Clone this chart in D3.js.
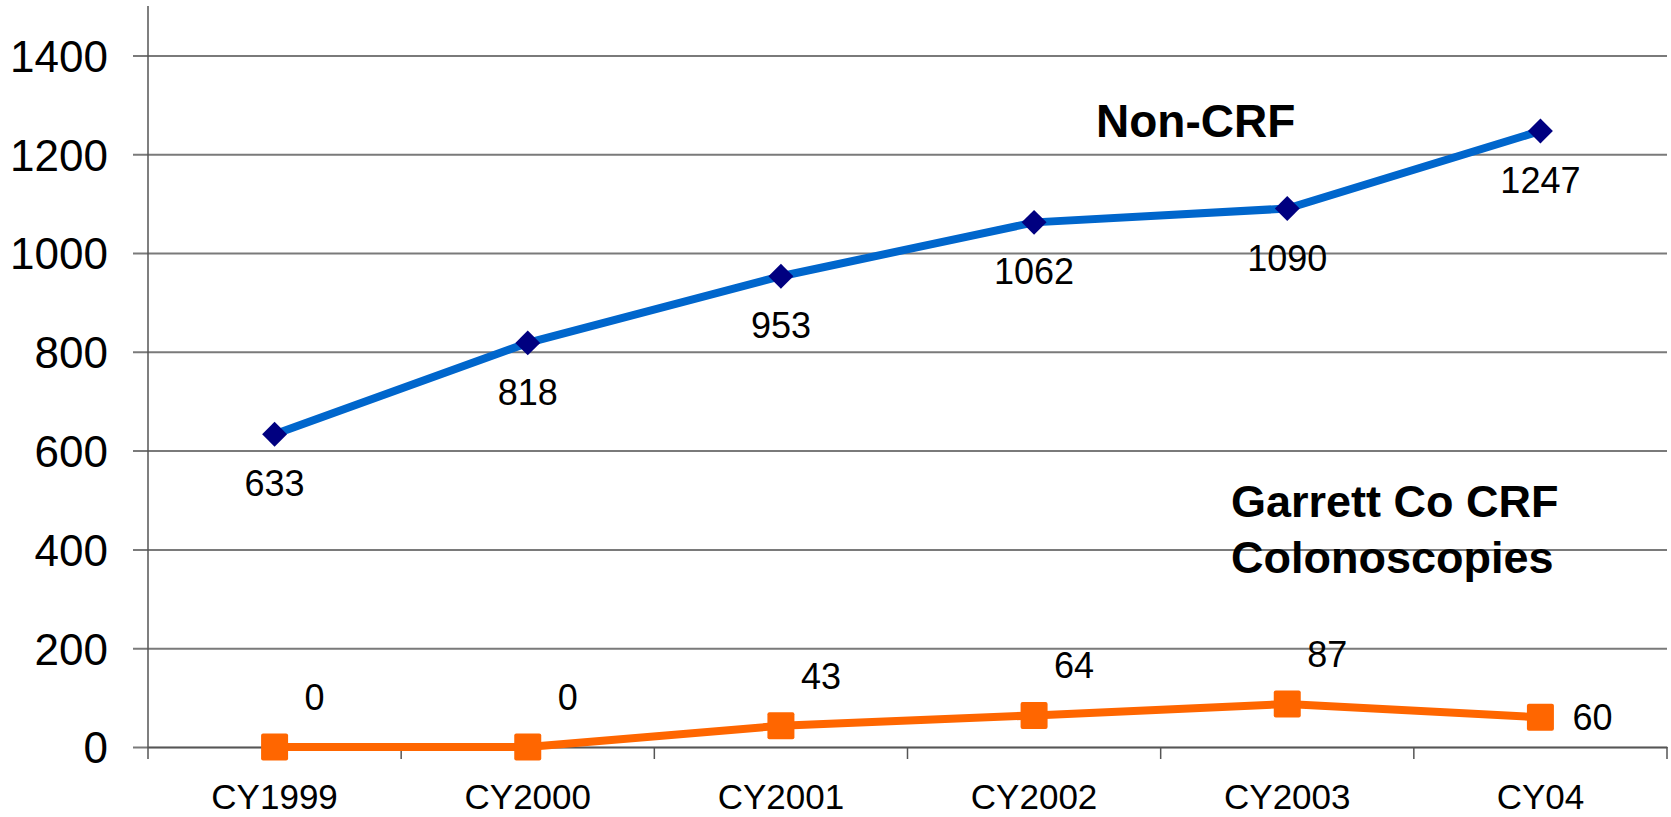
<!DOCTYPE html>
<html>
<head>
<meta charset="utf-8">
<script src="https://cdn.jsdelivr.net/npm/d3@7"></script>
<style>
  html, body { margin: 0; padding: 0; background: #fff; }
  svg { display: block; font-family: "Liberation Sans", Arial, sans-serif; }
</style>
</head>
<body>
<svg id="chart" width="1671" height="817"></svg>
<script>
// Colonoscopy counts by calendar year
const categories = ["CY1999", "CY2000", "CY2001", "CY2002", "CY2003", "CY04"];
const nonCrf = [633, 818, 953, 1062, 1090, 1247];
const garrettCrf = [0, 0, 43, 64, 87, 60];
const yTicks = [0, 200, 400, 600, 800, 1000, 1200, 1400];

const W = 1671, H = 817;
const margin = { left: 148, right: 4, top: 6, bottom: 70 };

const svg = d3.select("#chart");

const x = d3.scaleBand()
  .domain(categories)
  .range([margin.left, W - margin.right])
  .paddingInner(0).paddingOuter(0);

const y = d3.scaleLinear()
  .domain([0, 1500])
  .range([H - margin.bottom, margin.top]);

const cx = d => x(d) + x.bandwidth() / 2;

// Horizontal gridlines with tick labels
const yAxis = d3.axisLeft(y)
  .tickValues(yTicks)
  .tickSize(0)
  .tickPadding(0)
  .tickFormat(d3.format("d"));

const gy = svg.append("g")
  .attr("transform", `translate(${margin.left},0)`)
  .call(yAxis);
gy.select(".domain").remove();
gy.selectAll(".tick line")
  .attr("x1", -15)
  .attr("x2", W - margin.right - margin.left)
  .attr("stroke", "#7a7a7a")
  .attr("stroke-width", 2);
gy.selectAll(".tick text")
  .attr("x", -40)
  .attr("dy", "0.36em")
  .attr("fill", "#000")
  .style("font-size", "44px");

// Vertical axis line
svg.append("line")
  .attr("x1", margin.left).attr("x2", margin.left)
  .attr("y1", margin.top).attr("y2", y(0) + 12)
  .attr("stroke", "#555").attr("stroke-width", 1.5);

// Category axis
const xAxis = d3.axisBottom(x).tickSize(0).tickPadding(0);
const gx = svg.append("g")
  .attr("transform", `translate(0,${y(0)})`)
  .call(xAxis);
gx.select(".domain").attr("stroke", "#555").attr("stroke-width", 1.5);
gx.selectAll(".tick text")
  .attr("y", 62)
  .attr("dy", 0)
  .attr("fill", "#000")
  .style("font-size", "35px");

// Tick marks between categories
const bounds = categories.map(c => x(c) + x.bandwidth());
svg.append("g").selectAll("line")
  .data(bounds)
  .join("line")
  .attr("x1", d => d).attr("x2", d => d)
  .attr("y1", y(0)).attr("y2", y(0) + 12)
  .attr("stroke", "#555").attr("stroke-width", 1.5);

// Non-CRF series
const lineGen = d3.line().x((d, i) => cx(categories[i])).y(d => y(d));

svg.append("path")
  .datum(nonCrf)
  .attr("d", lineGen)
  .attr("fill", "none")
  .attr("stroke", "#0066cc")
  .attr("stroke-width", 8);

const diamond = d3.symbol().type(d3.symbolSquare).size(310);
svg.append("g").selectAll("path")
  .data(nonCrf)
  .join("path")
  .attr("d", diamond)
  .attr("transform", (d, i) => `translate(${cx(categories[i])},${y(d)}) rotate(45)`)
  .attr("fill", "#000080");

svg.append("g").selectAll("text")
  .data(nonCrf)
  .join("text")
  .attr("x", (d, i) => cx(categories[i]))
  .attr("y", d => y(d) + 62)
  .attr("text-anchor", "middle")
  .style("font-size", "36px")
  .text(d => d);

// Garrett Co CRF series
svg.append("path")
  .datum(garrettCrf)
  .attr("d", lineGen)
  .attr("fill", "none")
  .attr("stroke", "#ff6600")
  .attr("stroke-width", 8);

const sq = 27;
svg.append("g").selectAll("rect")
  .data(garrettCrf)
  .join("rect")
  .attr("x", (d, i) => cx(categories[i]) - sq / 2)
  .attr("y", d => y(d) - sq / 2)
  .attr("width", sq).attr("height", sq)
  .attr("rx", 2)
  .attr("fill", "#ff6600");

const last = garrettCrf.length - 1;
svg.append("g").selectAll("text")
  .data(garrettCrf)
  .join("text")
  .attr("x", (d, i) => i === last ? cx(categories[i]) + 32 : cx(categories[i]) + 40)
  .attr("y", (d, i) => i === last ? y(d) + 13 : y(d) - 37)
  .attr("text-anchor", (d, i) => i === last ? "start" : "middle")
  .style("font-size", "36px")
  .text(d => d);

// Series annotations
svg.append("text")
  .attr("x", 1096).attr("y", 137)
  .style("font-size", "46px").style("font-weight", "bold")
  .text("Non-CRF");

const ann = svg.append("text")
  .attr("x", 1231).attr("y", 517)
  .style("font-size", "45px").style("font-weight", "bold");
ann.append("tspan").attr("x", 1231).text("Garrett Co CRF");
ann.append("tspan").attr("x", 1231).attr("dy", 56).text("Colonoscopies");
</script>
</body>
</html>
